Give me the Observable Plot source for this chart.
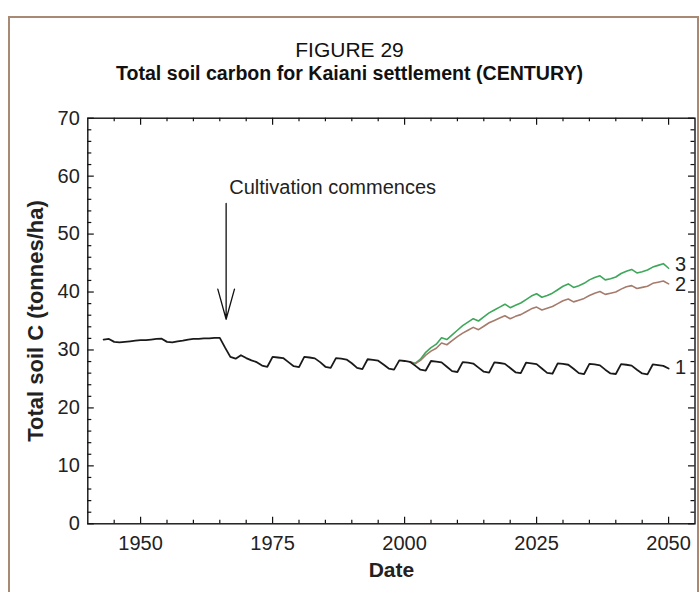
<!DOCTYPE html>
<html><head><meta charset="utf-8">
<script src="https://cdn.jsdelivr.net/npm/d3@7"></script>
<script src="https://cdn.jsdelivr.net/npm/@observablehq/plot@0.6"></script>
<style>
body{margin:0;background:#fff;}
#wrap{position:relative;width:699px;height:592px;overflow:hidden;background:#fff;}
#border{position:absolute;left:8px;top:16px;width:687px;height:700px;border:2px solid #a88a74;border-bottom:none;}
.t{position:absolute;left:0;width:699px;text-align:center;font-family:"Liberation Sans",Arial,sans-serif;color:#111;white-space:nowrap;line-height:20px;}
#chart svg{position:absolute;left:0;top:0;}
</style></head><body>
<div id="wrap">
<div id="border"></div>
<div class="t" style="top:40.2px;font-size:21px;">FIGURE 29</div>
<div class="t" style="top:63.2px;font-size:19.6px;font-weight:700;">Total soil carbon for Kaiani settlement (CENTURY)</div>
<div id="chart"></div>
</div>
<script>
// ---- data ----
const startBase = 1943;
const soilC1 = [
 31.8,31.9,31.4,31.3,31.4,31.5,31.6,31.7,31.7,31.8,31.9,31.95,31.4,31.3,31.5,31.6,31.8,31.9,31.9,32.0,32.0,32.1,32.1,
 30.4,28.8,28.5,29.1,28.6,28.2,27.9,27.3,27.1,
 28.8,28.7,28.6,27.9,27.2,27.05,
 28.8,28.7,28.55,27.9,27.1,26.9,
 28.6,28.5,28.35,27.7,26.9,26.7,
 28.4,28.3,28.15,27.5,26.8,26.6,
 28.2,28.1,27.95,27.3,26.6,26.45,
 28.1,28.0,27.85,27.1,26.35,26.2,
 27.9,27.8,27.65,26.95,26.25,26.1,
 27.85,27.75,27.6,26.9,26.15,26.0,
 27.8,27.7,27.55,26.8,26.05,25.9,
 27.7,27.6,27.45,26.75,26.0,25.85,
 27.6,27.5,27.35,26.6,25.95,25.85,
 27.55,27.45,27.3,26.6,25.95,25.8,
 27.5,27.4,27.25,26.8
];
const startScen = 2001;
const soilC2 = [
 27.95,27.6,28.2,29.1,29.8,30.3,31.2,30.9,31.6,32.3,
 32.9,33.4,33.9,33.5,34.1,34.7,35.1,35.5,35.9,35.4,
 35.8,36.1,36.6,37.1,37.4,36.9,37.2,37.5,38.0,38.5,
 38.8,38.3,38.6,38.9,39.4,39.8,40.1,39.6,39.8,40.0,
 40.5,40.9,41.1,40.6,40.8,41.0,41.5,41.7,41.9,41.4
];
const soilC3 = [
 27.95,27.7,28.4,29.6,30.4,31.0,32.1,31.8,32.6,33.4,
 34.2,34.8,35.4,35.0,35.7,36.4,36.9,37.4,37.9,37.3,
 37.7,38.1,38.7,39.3,39.7,39.1,39.4,39.8,40.4,41.0,
 41.4,40.8,41.1,41.5,42.1,42.5,42.8,42.1,42.3,42.6,
 43.2,43.6,43.9,43.3,43.5,43.8,44.3,44.6,44.9,44.1
];
const seriesNames = ["1", "2", "3"];
const seriesColors = ["#1a1a1a", "#a47b6c", "#3ea75a"];
const labelYear = 2051.2;
const labelValues = [26.9, 41.3, 44.8];

const xTicks = [1950, 1975, 2000, 2025, 2050];
const xMinor = [1945, 1955, 1960, 1965, 1970, 1980, 1985, 1990, 1995, 2005, 2010, 2015, 2020, 2030, 2035, 2040, 2045];
const yTicks = [0, 10, 20, 30, 40, 50, 60, 70];
const yMinor = [2,4,6,8,12,14,16,18,22,24,26,28,32,34,36,38,42,44,46,48,52,54,56,58,62,64,66,68];

const noteText = ["Cultivation commences"];
const noteYear = 1966.8, noteValue = 58.1;
const arrowYear = 1966.2, arrowFrom = 55.3, arrowTo = 35.3;

// ---- tables ----
const s1 = soilC1.map((v, i) => ({year: startBase + i, c: v}));
const s2 = soilC2.map((v, i) => ({year: startScen + i, c: v}));
const s3 = soilC3.map((v, i) => ({year: startScen + i, c: v}));
const labels = seriesNames.map((n, i) => ({name: n, year: labelYear, c: labelValues[i]}));

const W = 699, H = 592, mL = 87.3, mR = 4.5, mT = 117.7, mB = 68.7;
const pw = W - mL - mR, ph = H - mT - mB;
const ink = "#111";

const chart = Plot.plot({
  width: W, height: H,
  marginLeft: mL, marginRight: mR, marginTop: mT, marginBottom: mB,
  x: {domain: [1940, 2055]},
  y: {domain: [0, 70]},
  style: {fontFamily: "'Liberation Sans', Arial, sans-serif", fontSize: "20px", color: "#222", background: "transparent", overflow: "visible"},
  marks: [
    // inward ticks, four sides
    Plot.ruleX(xTicks, {insetTop: ph - 6.5, stroke: ink, strokeWidth: 1.2}),
    Plot.ruleX(xMinor, {insetTop: ph - 3.5, stroke: ink, strokeWidth: 1.2}),
    Plot.ruleX(xTicks, {insetBottom: ph - 7, stroke: ink, strokeWidth: 1.2}),
    Plot.ruleX(xMinor, {insetBottom: ph - 3.5, stroke: ink, strokeWidth: 1.2}),
    Plot.ruleY(yTicks, {insetRight: pw - 6.5, stroke: ink, strokeWidth: 1.2}),
    Plot.ruleY(yMinor, {insetRight: pw - 4, stroke: ink, strokeWidth: 1.2}),
    Plot.ruleY(yTicks, {insetLeft: pw - 6.5, stroke: ink, strokeWidth: 1.2}),
    Plot.ruleY(yMinor, {insetLeft: pw - 4, stroke: ink, strokeWidth: 1.2}),
    Plot.frame({stroke: ink, strokeWidth: 1.4}),
    Plot.axisX(xTicks, {tickSize: 0, tickPadding: 12, fontSize: 20, tickFormat: d => String(d), label: null}),
    Plot.axisY(yTicks, {tickSize: 0, tickPadding: 8, fontSize: 20, tickFormat: d => String(d), label: null}),
    Plot.text(["Date"], {text: d => d, frameAnchor: "bottom", textAnchor: "middle", lineAnchor: "middle", dy: 46, fontSize: 21, fontWeight: "bold", fill: "#222"}),
    Plot.text(["Total soil C (tonnes/ha)"], {text: d => d, frameAnchor: "left", textAnchor: "middle", lineAnchor: "middle", dx: -52.3, dy: 0, rotate: -90, fontSize: 22, fontWeight: "bold", fill: "#222"}),
    // series
    Plot.line(s3, {x: "year", y: "c", stroke: seriesColors[2], strokeWidth: 1.6}),
    Plot.line(s2, {x: "year", y: "c", stroke: seriesColors[1], strokeWidth: 1.6}),
    Plot.line(s1, {x: "year", y: "c", stroke: seriesColors[0], strokeWidth: 1.8}),
    Plot.text(labels, {x: "year", y: "c", text: "name", textAnchor: "start", fontSize: 20, fill: "#222"}),
    // annotation
    Plot.text(noteText, {text: d => d, x: () => noteYear, y: () => noteValue, textAnchor: "start", fontSize: 20, fill: "#222"}),
    Plot.arrow([0], {x1: () => arrowYear, x2: () => arrowYear, y1: () => arrowFrom, y2: () => arrowTo, stroke: ink, strokeWidth: 1.3, headLength: 36, headAngle: 31})
  ]
});
document.getElementById("chart").appendChild(chart);
</script>
</body></html>
